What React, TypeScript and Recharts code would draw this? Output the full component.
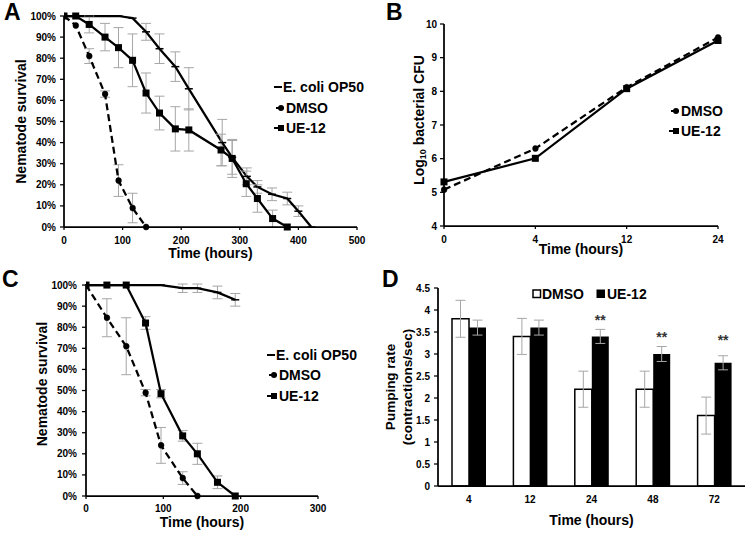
import React from 'react';
import { LineChart, Line, XAxis, YAxis, ErrorBar, BarChart, Bar, LabelList, Label } from 'recharts';

const FONT = '"Liberation Sans", Arial, Helvetica, sans-serif';

// ---------- Panel A: nematode survival ----------
const aEcoliTime = [0, 20, 43, 70, 93, 117, 140, 163, 190, 213, 270, 287, 312, 330, 355, 381, 400, 422];
const aEcoliSurvival = [100, 100, 100, 100, 100, 99, 92.5, 84.5, 76, 65.5, 40, 33, 24, 19, 15.5, 13.5, 7.5, 0];
const aEcoliError = [0, 0, 0, 0, 0, 0, 4, 7, 7, 10, 11, 8, 4, 3, 3, 3, 2.5, 0];
const aDmsoTime = [0, 20, 43, 70, 93, 117, 140];
const aDmsoSurvival = [100, 95.5, 81, 63, 22, 9, 0];
const aDmsoError = [0, 0, 3.5, 1.5, 7.5, 7, 0];
const aUeTime = [0, 20, 43, 70, 93, 117, 140, 163, 190, 213, 268, 287, 311, 330, 356, 381];
const aUeSurvival = [100, 100, 96, 90, 85, 79, 63.5, 54, 46.5, 46, 36.5, 32.5, 20.5, 13.5, 4, 0];
const aUeError = [0, 0, 4, 6.5, 9.5, 12.5, 9.5, 8, 10.5, 10, 7.5, 9, 6, 6.5, 4, 0];
const aTimeTicks = [0, 100, 200, 300, 400, 500];

// ---------- Panel B: bacterial growth ----------
const bTimeLabels = ['0', '4', '12', '24'];
const bDmsoLog = [5.08, 6.3, 8.12, 9.6];
const bUeLog = [5.31, 6.01, 8.08, 9.51];
const bLogTicks = [4, 5, 6, 7, 8, 9, 10];

// ---------- Panel C: nematode survival ----------
const cEcoliTime = [0, 27, 52, 77, 97, 125, 144, 170, 193];
const cEcoliSurvival = [100, 100, 100, 100, 100, 98.5, 98.5, 96.5, 93];
const cEcoliError = [0, 0, 0, 0, 0, 2, 2, 3, 3];
const cDmsoTime = [0, 27, 52, 77, 97, 125, 144];
const cDmsoSurvival = [100, 84.5, 71, 49, 24, 8.5, 0];
const cDmsoError = [0, 9, 13.5, 1.5, 8.5, 3, 0];
const cUeTime = [0, 27, 52, 77, 97, 125, 144, 170, 193];
const cUeSurvival = [100, 100, 100, 82, 48.5, 28.5, 20, 6.5, 0];
const cUeError = [0, 0, 0, 3, 2, 2.5, 5, 3, 0];
const cTimeTicks = [0, 100, 200, 300];

const survivalTicks = [0, 10, 20, 30, 40, 50, 60, 70, 80, 90, 100];

// ---------- Panel D: pumping rate ----------
const dTimeLabels = ['4', '12', '24', '48', '72'];
const dDmsoRate = [3.8, 3.4, 2.2, 2.2, 1.6];
const dDmsoError = [0.42, 0.41, 0.41, 0.41, 0.42];
const dUeRate = [3.6, 3.6, 3.4, 3.0, 2.8];
const dUeError = [0.17, 0.17, 0.16, 0.17, 0.16];
const dSignificance = ['', '', '**', '**', '**'];
const dStarLevel = [0, 0, 3.82, 3.43, 3.37];
const dRateTicks = [0, 0.5, 1, 1.5, 2, 2.5, 3, 3.5, 4, 4.5];

const seriesNames = { ecoli: 'E. coli OP50', dmso: 'DMSO', ue: 'UE-12' };

const toRows = (t: number[], v: number[], e: number[]) => t.map((x, i) => ({ t: x, v: v[i], e: e[i] }));

const aEcoliRows = toRows(aEcoliTime, aEcoliSurvival, aEcoliError);
const aDmsoRows = toRows(aDmsoTime, aDmsoSurvival, aDmsoError);
const aUeRows = toRows(aUeTime, aUeSurvival, aUeError);
const cEcoliRows = toRows(cEcoliTime, cEcoliSurvival, cEcoliError);
const cDmsoRows = toRows(cDmsoTime, cDmsoSurvival, cDmsoError);
const cUeRows = toRows(cUeTime, cUeSurvival, cUeError);
const bRows = bTimeLabels.map((t, i) => ({ t, dmso: bDmsoLog[i], ue: bUeLog[i] }));
const dRows = dTimeLabels.map((t, i) => ({
  t,
  dmso: dDmsoRate[i],
  dmsoErr: dDmsoError[i],
  ue: dUeRate[i],
  ueErr: dUeError[i],
  sig: dSignificance[i],
}));

const tickStyle = { fill: '#000', fontSize: 10, fontWeight: 700, fontFamily: FONT };
const axisLine = { stroke: '#000', strokeWidth: 1.75 };
const tickLine = { stroke: '#000', strokeWidth: 1.25 };
const titleStyle: React.CSSProperties = { fontFamily: FONT, fontWeight: 700, fontSize: 14, fill: '#000' };
const ERR = '#a6a6a6';

const SquareDot = (p: any) => {
  const { cx, cy, index } = p;
  if (cx == null || cy == null) return <g key={`s${index}`} />;
  return <rect key={`s${index}`} x={cx - 3.5} y={cy - 3.5} width={7} height={7} fill="#000" />;
};
const DashDot = (p: any) => {
  const { cx, cy, index } = p;
  if (cx == null || cy == null) return <g key={`d${index}`} />;
  return <line key={`d${index}`} x1={cx - 4} x2={cx + 4} y1={cy} y2={cy} stroke="#000" strokeWidth={1.5} />;
};
const circleDot = { r: 3, fill: '#000', stroke: '#000', strokeWidth: 0.5 };

const xTitle = (text: string, dy: number) => (props: any) => {
  const vb = props.viewBox || {};
  return (
    <text x={vb.x + vb.width / 2} y={vb.y + dy} textAnchor="middle" dominantBaseline="central" style={titleStyle}>
      {text}
    </text>
  );
};

const yTitle = (lines: string[], xs: number[], shift: number, size = 14) => (props: any) => {
  const vb = props.viewBox || {};
  const cy = vb.y + vb.height / 2 + shift;
  return (
    <g>
      {lines.map((l, i) => (
        <text
          key={i}
          x={xs[i]}
          y={cy}
          transform={`rotate(-90, ${xs[i]}, ${cy})`}
          textAnchor="middle"
          dominantBaseline="central"
          style={{ ...titleStyle, fontSize: size }}
        >
          {l}
        </text>
      ))}
    </g>
  );
};

const logTitle = (x: number, shift: number) => (props: any) => {
  const vb = props.viewBox || {};
  const cy = vb.y + vb.height / 2 + shift;
  return (
    <text x={x} y={cy} transform={`rotate(-90, ${x}, ${cy})`} textAnchor="middle" dominantBaseline="central" style={titleStyle}>
      <tspan>Log</tspan>
      <tspan dy={4} fontSize={9}>10</tspan>
      <tspan dy={-4}> bacterial CFU</tspan>
    </text>
  );
};

type IconKind = 'dash' | 'circle' | 'square' | 'openBox' | 'box';
const Icon = ({ kind }: { kind: IconKind }) => {
  if (kind === 'dash')
    return (
      <svg width={9} height={10} style={{ display: 'block' }}>
        <line x1={1} x2={9} y1={5} y2={5} stroke="#000" strokeWidth={2} />
      </svg>
    );
  if (kind === 'circle')
    return (
      <svg width={12} height={10} style={{ display: 'block' }}>
        <line x1={3} x2={11} y1={5} y2={5} stroke="#000" strokeWidth={2} />
        <circle cx={8} cy={5} r={3} fill="#000" />
      </svg>
    );
  if (kind === 'square')
    return (
      <svg width={12} height={10} style={{ display: 'block' }}>
        <line x1={1} x2={11} y1={5} y2={5} stroke="#000" strokeWidth={2} />
        <rect x={5} y={2} width={6} height={6} fill="#000" />
      </svg>
    );
  if (kind === 'openBox')
    return (
      <svg width={10} height={10} style={{ display: 'block' }}>
        <rect x={1} y={1} width={7.5} height={7.5} fill="#fff" stroke="#000" strokeWidth={1.5} />
      </svg>
    );
  return (
    <svg width={10} height={10} style={{ display: 'block' }}>
      <rect x={0.5} y={0.5} width={8.5} height={8.5} fill="#000" />
    </svg>
  );
};

const VLegend = ({ left, top, items, rowH }: { left: number; top: number; items: { name: string; icon: IconKind }[]; rowH: number }) => (
  <div style={{ position: 'absolute', left, top, fontFamily: FONT, fontWeight: 700, fontSize: 14, color: '#000' }}>
    {items.map((it) => (
      <div key={it.name} style={{ display: 'flex', alignItems: 'center', height: rowH, whiteSpace: 'nowrap' }}>
        <Icon kind={it.icon} />
        <span style={{ marginLeft: 1 }}>{it.name}</span>
      </div>
    ))}
  </div>
);

const panelLetter = (ch: string, left: number, top: number) => (
  <div style={{ position: 'absolute', left, top, fontFamily: FONT, fontWeight: 700, fontSize: 23, lineHeight: 1, color: '#000' }}>
    {ch}
  </div>
);

const StarLabel = (p: any) => {
  const { x, y, width, height, value, index } = p;
  if (!value) return null;
  const perUnit = height / dUeRate[index];
  const sy = y - (dStarLevel[index] - dUeRate[index]) * perUnit;
  return (
    <text x={x + width / 2} y={sy + 7} textAnchor="middle" style={{ fontFamily: FONT, fontWeight: 700, fontSize: 14, fill: '#333' }}>
      {value}
    </text>
  );
};

const SurvivalChart = (props: {
  ecoli: any[];
  dmso: any[];
  ue: any[];
  xMax: number;
  xTicks: number[];
  width: number;
  height: number;
  margin: any;
  xHeight: number;
  yTickMargin: number;
  xTickMargin: number;
  xTitleDy: number;
  yTitleX: number;
  yTitleShift: number;
}) => (
  <LineChart width={props.width} height={props.height} margin={props.margin}>
    <XAxis
      type="number"
      dataKey="t"
      domain={[0, props.xMax]}
      ticks={props.xTicks}
      height={props.xHeight}
      tick={tickStyle}
      axisLine={axisLine}
      tickLine={tickLine}
      tickSize={3}
      tickMargin={props.xTickMargin}
      allowDataOverflow
    >
      <Label content={xTitle('Time (hours)', props.xTitleDy)} />
    </XAxis>
    <YAxis
      type="number"
      domain={[0, 100]}
      ticks={survivalTicks}
      width={40}
      tick={tickStyle}
      tickFormatter={(v: number) => `${v}%`}
      axisLine={axisLine}
      tickLine={tickLine}
      tickSize={4}
      tickMargin={props.yTickMargin}
      interval={0}
    >
      <Label content={yTitle(['Nematode survival'], [props.yTitleX], props.yTitleShift)} />
    </YAxis>
    <Line data={props.ecoli} dataKey="v" name={seriesNames.ecoli} stroke="#000" strokeWidth={2.25} dot={DashDot} isAnimationActive={false}>
      <ErrorBar dataKey="e" direction="y" stroke={ERR} strokeWidth={1} width={5} />
    </Line>
    <Line data={props.ue} dataKey="v" name={seriesNames.ue} stroke="#000" strokeWidth={2.25} dot={SquareDot} isAnimationActive={false}>
      <ErrorBar dataKey="e" direction="y" stroke={ERR} strokeWidth={1} width={5} />
    </Line>
    <Line
      data={props.dmso}
      dataKey="v"
      name={seriesNames.dmso}
      stroke="#000"
      strokeWidth={2.25}
      strokeDasharray="7 4"
      dot={circleDot}
      isAnimationActive={false}
    >
      <ErrorBar dataKey="e" direction="y" stroke={ERR} strokeWidth={1} width={5} />
    </Line>
  </LineChart>
);

const survivalLegend = [
  { name: seriesNames.ecoli, icon: 'dash' as IconKind },
  { name: seriesNames.dmso, icon: 'circle' as IconKind },
  { name: seriesNames.ue, icon: 'square' as IconKind },
];

export default function App() {
  return (
    <div style={{ position: 'absolute', left: 0, top: 0, width: 754, height: 536, background: '#fff', overflow: 'hidden' }}>
      {/* Panel A */}
      <div style={{ position: 'absolute', left: 0, top: 0 }}>
        <SurvivalChart
          ecoli={aEcoliRows}
          dmso={aDmsoRows}
          ue={aUeRows}
          xMax={500}
          xTicks={aTimeTicks}
          width={380}
          height={265}
          margin={{ top: 16, right: 23, left: 24, bottom: 0 }}
          xHeight={38}
          yTickMargin={4}
          xTickMargin={7}
          xTitleDy={26}
          yTitleX={21}
          yTitleShift={0}
        />
      </div>
      <VLegend left={273} top={77} rowH={20.5} items={survivalLegend} />
      {panelLetter('A', 4, 1)}

      {/* Panel B */}
      <div style={{ position: 'absolute', left: 380, top: 0 }}>
        <LineChart width={374} height={265} data={bRows} margin={{ top: 24, right: 36, left: 14, bottom: 0 }}>
          <XAxis
            dataKey="t"
            type="category"
            height={39}
            tick={tickStyle}
            axisLine={axisLine}
            tickLine={tickLine}
            tickSize={3}
            tickMargin={7}
            interval={0}
            padding={{ left: 0, right: 0 }}
          >
            <Label content={xTitle('Time (hours)', 23)} />
          </XAxis>
          <YAxis
            type="number"
            domain={[4, 10]}
            ticks={bLogTicks}
            width={50}
            tick={tickStyle}
            axisLine={axisLine}
            tickLine={tickLine}
            tickSize={4}
            tickMargin={3}
            interval={0}
          >
            <Label content={logTitle(39, -5)} />
          </YAxis>
          <Line dataKey="ue" name={seriesNames.ue} stroke="#000" strokeWidth={2.25} dot={SquareDot} isAnimationActive={false} />
          <Line
            dataKey="dmso"
            name={seriesNames.dmso}
            stroke="#000"
            strokeWidth={2.25}
            strokeDasharray="7 4"
            dot={circleDot}
            isAnimationActive={false}
          />
        </LineChart>
      </div>
      <VLegend
        left={668}
        top={100.5}
        rowH={20.5}
        items={[
          { name: seriesNames.dmso, icon: 'circle' },
          { name: seriesNames.ue, icon: 'square' },
        ]}
      />
      {panelLetter('B', 386, 1)}

      {/* Panel C */}
      <div style={{ position: 'absolute', left: 0, top: 265 }}>
        <SurvivalChart
          ecoli={cEcoliRows}
          dmso={cDmsoRows}
          ue={cUeRows}
          xMax={300}
          xTicks={cTimeTicks}
          width={380}
          height={271}
          margin={{ top: 19, right: 62, left: 46, bottom: 0 }}
          xHeight={40}
          yTickMargin={5}
          xTickMargin={6}
          xTitleDy={26}
          yTitleX={42}
          yTitleShift={-6}
        />
      </div>
      <VLegend left={266} top={344.5} rowH={20.5} items={survivalLegend} />
      {panelLetter('C', 2, 268)}

      {/* Panel D */}
      <div style={{ position: 'absolute', left: 380, top: 265 }}>
        <BarChart width={374} height={271} data={dRows} margin={{ top: 23, right: 9, left: 18, bottom: 0 }} barGap={0}>
          <XAxis
            dataKey="t"
            type="category"
            height={50}
            tick={tickStyle}
            axisLine={axisLine}
            tickLine={false}
            tickSize={0}
            tickMargin={10}
            interval={0}
          >
            <Label content={xTitle('Time (hours)', 34)} />
          </XAxis>
          <YAxis
            type="number"
            domain={[0, 4.5]}
            ticks={dRateTicks}
            width={40}
            tick={tickStyle}
            axisLine={axisLine}
            tickLine={tickLine}
            tickSize={4}
            tickMargin={4}
            interval={0}
          >
            <Label content={yTitle(['Pumping rate', '(contractions/sec)'], [10, 27], 0, 13.5)} />
          </YAxis>
          <Bar dataKey="dmso" name={seriesNames.dmso} fill="#fff" stroke="#000" strokeWidth={1.5} barSize={17} isAnimationActive={false}>
            <ErrorBar dataKey="dmsoErr" direction="y" stroke={ERR} strokeWidth={1} width={5} />
          </Bar>
          <Bar dataKey="ue" name={seriesNames.ue} fill="#000" barSize={17} isAnimationActive={false}>
            <ErrorBar dataKey="ueErr" direction="y" stroke={ERR} strokeWidth={1} width={5} />
            <LabelList dataKey="sig" content={StarLabel} />
          </Bar>
        </BarChart>
      </div>
      <div
        style={{
          position: 'absolute',
          left: 532,
          top: 284,
          display: 'flex',
          alignItems: 'center',
          height: 20,
          fontFamily: FONT,
          fontWeight: 700,
          fontSize: 14,
          color: '#000',
          whiteSpace: 'nowrap',
        }}
      >
        <Icon kind="openBox" />
        <span style={{ marginLeft: 0 }}>{seriesNames.dmso}</span>
        <span style={{ display: 'inline-block', width: 12 }} />
        <Icon kind="box" />
        <span style={{ marginLeft: 1 }}>{seriesNames.ue}</span>
      </div>
      {panelLetter('D', 382, 268)}
    </div>
  );
}
